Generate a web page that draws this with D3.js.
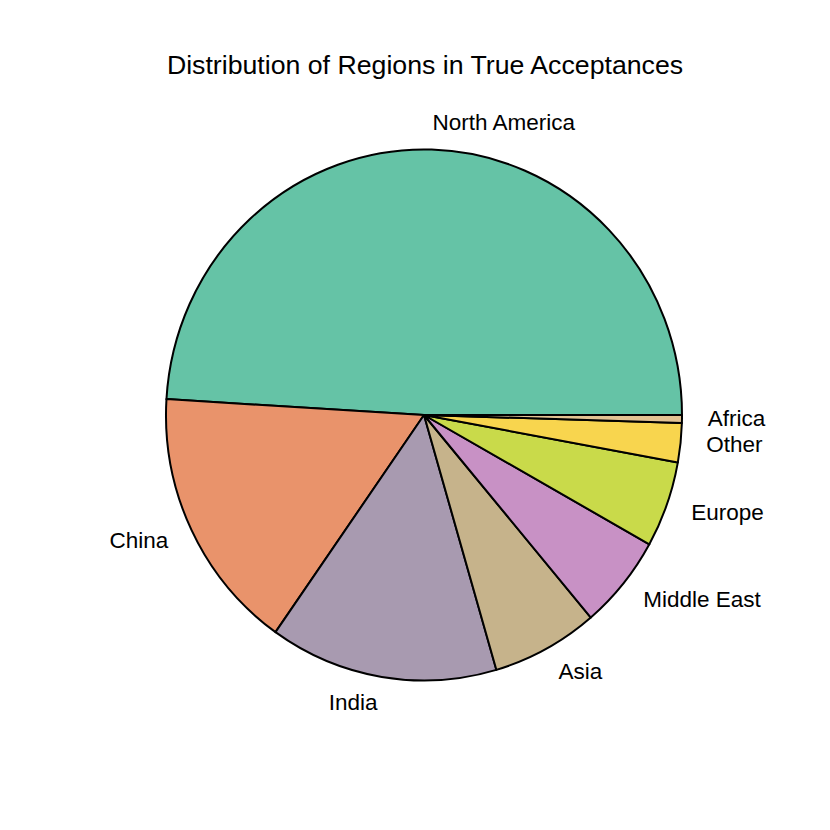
<!DOCTYPE html>
<html>
<head>
<meta charset="utf-8">
<script src="https://cdn.jsdelivr.net/npm/d3@7"></script>
<style>
  body { margin: 0; background: #fff; }
  text { font-family: "Liberation Sans", Arial, sans-serif; fill: #000; }
</style>
</head>
<body>
<div id="chart"></div>
<script>
// chart data
var regions = ["North America", "China", "India", "Asia", "Middle East", "Europe", "Other", "Africa"];
var counts = [103, 34, 30, 14, 12, 11, 5, 1];
var colors = ["#65C3A6", "#E9936B", "#A89AB0", "#C6B38B", "#C891C5", "#C9DA4A", "#F8D54E", "#E2C393"];

var W = 830, H = 830;
var cx = 424, cy = 415, rx = 258, ry = 265.5;

var svg = d3.select("#chart").append("svg")
    .attr("width", W)
    .attr("height", H);

svg.append("text")
    .attr("x", 425)
    .attr("y", 65)
    .attr("text-anchor", "middle")
    .attr("dominant-baseline", "central")
    .style("font-size", "26.7px")
    .text("Distribution of Regions in True Acceptances");

var data = regions.map(function(r, i){ return {region: r, count: counts[i]}; });

// counterclockwise from 3 o'clock, like R's pie()
var pie = d3.pie()
    .sort(null)
    .value(function(d){ return d.count; })
    .startAngle(Math.PI / 2)
    .endAngle(Math.PI / 2 - 2 * Math.PI);

var arcs = pie(data);

var arc = d3.arc().innerRadius(0).outerRadius(rx);

var g = svg.append("g")
    .attr("transform", "translate(" + cx + "," + cy + ") scale(1," + (ry / rx) + ")");

g.selectAll("path")
    .data(arcs)
    .enter().append("path")
    .attr("d", arc)
    .attr("fill", function(d, i){ return colors[i]; })
    .attr("stroke", "#000")
    .attr("stroke-width", 2)
    .attr("stroke-linejoin", "round")
    .attr("vector-effect", "non-scaling-stroke");

// labels at 1.1 radius
svg.selectAll(".lbl")
    .data(arcs)
    .enter().append("text")
    .attr("class", "lbl")
    .attr("x", function(d){
        var a = (d.startAngle + d.endAngle) / 2;
        return cx + 1.1 * rx * Math.sin(a);
    })
    .attr("y", function(d){
        var a = (d.startAngle + d.endAngle) / 2;
        return cy - 1.1 * ry * Math.cos(a) - 1;
    })
    .attr("text-anchor", function(d){
        var a = (d.startAngle + d.endAngle) / 2;
        return Math.sin(a) < 0 ? "end" : "start";
    })
    .attr("dominant-baseline", "central")
    .style("font-size", "22.5px")
    .text(function(d){ return d.data.region; });
</script>
</body>
</html>
